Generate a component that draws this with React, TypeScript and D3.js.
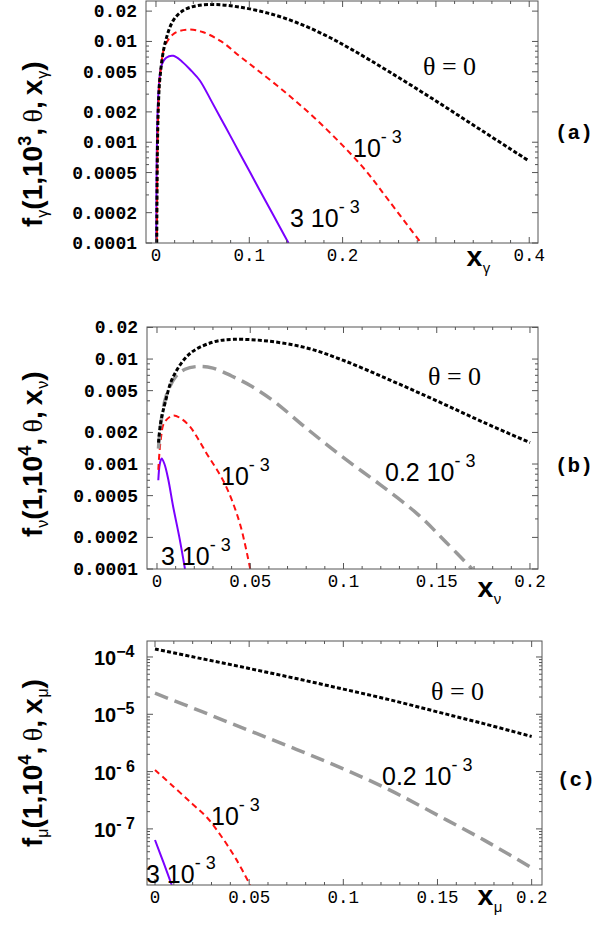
import React from 'react';
import * as d3 from 'd3';

type Pt = [number, number];

// ---- panel (a): f_gamma(1, 10^3, theta, x_gamma)
const gammaTheta0: Pt[] = [
  [0.0008, 0.0001], [0.0015, 0.0008], [0.0025, 0.0022], [0.0043, 0.0044], [0.0096, 0.0095],
  [0.0186, 0.0162], [0.03, 0.0205], [0.045, 0.0227], [0.065, 0.0232], [0.09, 0.0219],
  [0.12, 0.0191], [0.15, 0.0155], [0.18, 0.0117], [0.21, 0.0083], [0.25, 0.005],
  [0.3, 0.00257], [0.35, 0.00129], [0.4, 0.00065],
];
const gammaTheta1: Pt[] = [
  [0.001, 0.0001], [0.0018, 0.001], [0.003, 0.0028], [0.005, 0.0052], [0.01, 0.0092],
  [0.02, 0.0121], [0.035, 0.0131], [0.05, 0.0124], [0.07, 0.01], [0.09, 0.0071],
  [0.11, 0.0051], [0.14, 0.00305], [0.17, 0.00174], [0.2, 0.00093], [0.225, 0.00052],
  [0.25, 0.00026], [0.284, 0.0001],
];
const gammaTheta3: Pt[] = [
  [0.0003, 0.0001], [0.0012, 0.0012], [0.003, 0.0035], [0.006, 0.0058], [0.011, 0.0069],
  [0.0186, 0.0072], [0.028, 0.0063], [0.038, 0.0051], [0.047, 0.0041], [0.06, 0.0025],
  [0.075, 0.00139], [0.09, 0.00077], [0.11, 0.00035], [0.127, 0.00018], [0.142, 0.0001],
];

// ---- panel (b): f_nu(1, 10^4, theta, x_nu)
const nuTheta0: Pt[] = [
  [0.0008, 0.0016], [0.002, 0.0025], [0.0043, 0.0038], [0.0087, 0.0068], [0.0177, 0.0113],
  [0.03, 0.0145], [0.041, 0.0154], [0.06, 0.0148], [0.08, 0.0128], [0.1, 0.0097],
  [0.125, 0.0063], [0.15, 0.004], [0.175, 0.0025], [0.2, 0.0016],
];
const nuTheta02: Pt[] = [
  [0.0008, 0.0014], [0.002, 0.0024], [0.005, 0.0045], [0.01, 0.0068], [0.015, 0.008],
  [0.022, 0.0085], [0.03, 0.0082], [0.04, 0.0069], [0.05, 0.0056], [0.0624, 0.004],
  [0.08, 0.0022], [0.1, 0.00115], [0.12, 0.00063], [0.14, 0.00033], [0.155, 0.00018],
  [0.169, 0.0001],
];
const nuTheta1: Pt[] = [
  [0.0007, 0.00088], [0.002, 0.0017], [0.004, 0.0025], [0.0087, 0.0029], [0.013, 0.0027],
  [0.0177, 0.00227], [0.022, 0.00174], [0.0266, 0.00126], [0.031, 0.00095], [0.0356, 0.00069],
  [0.04, 0.00046], [0.045, 0.00025], [0.05, 0.0001],
];
const nuTheta3: Pt[] = [
  [0.0007, 0.0007], [0.0015, 0.001], [0.0025, 0.00113], [0.004, 0.001], [0.006, 0.00072],
  [0.0087, 0.00039], [0.012, 0.0002], [0.015, 0.0001],
];

// ---- panel (c): f_mu(1, 10^4, theta, x_mu)
const muTheta0: Pt[] = [
  [0, 1.38e-4], [0.025, 9.3e-5], [0.05, 6.3e-5], [0.075, 4.2e-5], [0.1, 2.75e-5],
  [0.125, 1.78e-5], [0.15, 1.1e-5], [0.175, 6.8e-6], [0.2, 4.1e-6],
];
const muTheta02: Pt[] = [
  [0, 2.33e-5], [0.025, 1.11e-5], [0.05, 5.2e-6], [0.075, 2.45e-6], [0.1, 1.12e-6],
  [0.125, 4.7e-7], [0.15, 1.74e-7], [0.175, 6.3e-8], [0.2, 2.1e-8],
];
const muTheta1: Pt[] = [
  [0, 1.07e-6], [0.01, 5.4e-7], [0.02, 2.7e-7], [0.0275, 1.6e-7], [0.035, 7.6e-8],
  [0.043, 3e-8], [0.0505, 1.05e-8],
];
const muTheta3: Pt[] = [[0, 6.4e-8], [0.0045, 2.6e-8], [0.0089, 1.05e-8]];

// ticks
const xTicksA = [0, 0.1, 0.2, 0.3, 0.4];
const xTickLabelsA = ['0', '0.1', '0.2', '', '0.4'];
const xTicksBC = [0, 0.05, 0.1, 0.15, 0.2];
const xTickLabelsBC = ['0', '0.05', '0.1', '0.15', '0.2'];
const yTicksAB = [0.02, 0.01, 0.005, 0.002, 0.001, 0.0005, 0.0002, 0.0001];
const yTickLabelsAB = ['0.02', '0.01', '0.005', '0.002', '0.001', '0.0005', '0.0002', '0.0001'];
const yTicksC = [1e-4, 1e-5, 1e-6, 1e-7];
const yTickExpC = ['\u22124', '\u22125', '- 6', '- 7'];

const SANS = '"Liberation Sans", Arial, sans-serif';
const MONO = '"Liberation Mono", "Courier New", monospace';
const SERIF = '"Liberation Serif", "Times New Roman", serif';

const lineStyles: Record<string, { stroke: string; width: number; dash?: string }> = {
  black: { stroke: '#000', width: 3, dash: '4 2.2' },
  gray: { stroke: '#999', width: 3.5, dash: '14 7' },
  red: { stroke: '#ff1010', width: 2, dash: '6 4' },
  purple: { stroke: '#7a00ff', width: 2 },
};

type Curve = { data: Pt[]; kind: string };

interface PanelProps {
  id: string;
  box: { left: number; top: number; right: number; bottom: number };
  xDomain: [number, number];
  yDomain: [number, number];
  xTicks: number[];
  xTickLabels: string[];
  xMinorStep: number;
  yTicks: number[];
  yTickLabels?: string[];
  yTickExp?: string[];
  curves: Curve[];
  children?: React.ReactNode;
}

const Panel = ({ id, box, xDomain, yDomain, xTicks, xTickLabels, xMinorStep, yTicks, yTickLabels, yTickExp, curves, children }: PanelProps) => {
  const x = d3.scaleLinear().domain(xDomain).range([box.left, box.right]);
  const y = d3.scaleLog().domain(yDomain).range([box.bottom, box.top]);
  const line = d3.line<Pt>().x(d => x(d[0])).y(d => y(d[1])).curve(d3.curveCatmullRom.alpha(0.5));

  const xMinor = d3.range(0, xDomain[1], xMinorStep)
    .filter(v => !xTicks.some(t => Math.abs(t - v) < 1e-9));
  const yMinor: number[] = [];
  for (let k = Math.floor(Math.log10(yDomain[0])); k <= Math.ceil(Math.log10(yDomain[1])); k++) {
    for (let m = 1; m <= 9; m++) {
      const v = m * Math.pow(10, k);
      if (v >= yDomain[0] * 0.999 && v <= yDomain[1] && !yTicks.some(t => Math.abs(t - v) / v < 1e-6)) yMinor.push(v);
    }
  }
  const tickColor = '#555';

  return (
    <g>
      <defs>
        <clipPath id={`clip-${id}`}>
          <rect x={box.left} y={box.top} width={box.right - box.left} height={box.bottom - box.top} />
        </clipPath>
      </defs>
      <g clipPath={`url(#clip-${id})`}>
        {curves.map((c, i) => {
          const s = lineStyles[c.kind];
          return <path key={i} d={line(c.data) || ''} fill="none" stroke={s.stroke} strokeWidth={s.width}
            strokeDasharray={s.dash} />;
        })}
      </g>
      <rect x={box.left} y={box.top} width={box.right - box.left} height={box.bottom - box.top}
        fill="none" stroke={tickColor} strokeWidth={1} />
      {xTicks.map(t => (
        <g key={`xt${t}`} stroke={tickColor}>
          <line x1={x(t)} x2={x(t)} y1={box.bottom} y2={box.bottom - 6} />
          <line x1={x(t)} x2={x(t)} y1={box.top} y2={box.top + 6} />
        </g>
      ))}
      {xMinor.map(t => (
        <g key={`xm${t}`} stroke={tickColor}>
          <line x1={x(t)} x2={x(t)} y1={box.bottom} y2={box.bottom - 3} />
          <line x1={x(t)} x2={x(t)} y1={box.top} y2={box.top + 3} />
        </g>
      ))}
      {yTicks.map(t => (
        <g key={`yt${t}`} stroke={tickColor}>
          <line x1={box.left} x2={box.left + 6} y1={y(t)} y2={y(t)} />
          <line x1={box.right} x2={box.right - 6} y1={y(t)} y2={y(t)} />
        </g>
      ))}
      {yMinor.map(t => (
        <g key={`ym${t}`} stroke={tickColor}>
          <line x1={box.left} x2={box.left + 3} y1={y(t)} y2={y(t)} />
          <line x1={box.right} x2={box.right - 3} y1={y(t)} y2={y(t)} />
        </g>
      ))}
      {xTicks.map((t, i) => (
        <text key={`xl${t}`} x={x(t)} y={box.bottom + 18} textAnchor="middle"
          fontFamily={MONO} fontSize={17.5}>{xTickLabels[i]}</text>
      ))}
      {yTickLabels && yTicks.map((t, i) => (
        <text key={`yl${t}`} x={box.left - 9} y={y(t) + 6} textAnchor="end"
          fontFamily={MONO} fontWeight="bold" fontSize={18}>{yTickLabels[i]}</text>
      ))}
      {yTickExp && yTicks.map((t, i) => (
        <text key={`ye${t}`} x={box.left - 53} y={y(t) + 8} textAnchor="start"
          fontFamily={SANS} fontWeight="bold" fontSize={20}>
          10<tspan fontSize={16} dy={-8}>{yTickExp[i]}</tspan>
        </text>
      ))}
      {children}
    </g>
  );
};

const Ten3 = ({ x, y, pre }: { x: number; y: number; pre: string }) => (
  <text x={x} y={y} fontFamily={SANS} fontSize={25}>
    {pre}10<tspan fontSize={18} dy={-14}>{'- 3'}</tspan>
  </text>
);

const Theta0 = ({ x, y }: { x: number; y: number }) => (
  <text x={x} y={y} fontFamily={SERIF} fontSize={26}>{'\u03b8 = 0'}</text>
);

const YLabel = ({ y, sub, pow }: { y: number; sub: string; pow: string }) => (
  <text transform={`translate(42,${y}) rotate(-90)`} fontFamily={SANS} fontWeight="bold" fontSize={28}>
    <tspan>f</tspan>
    <tspan fontSize={16} fontWeight="normal" dy={6}>{sub}</tspan>
    <tspan dy={-6}>{'(1,10'}</tspan>
    <tspan fontSize={18} dy={-11}>{pow}</tspan>
    <tspan dy={11}>{',\u2009'}</tspan>
    <tspan fontFamily={SERIF} fontWeight="normal">{'\u03b8'}</tspan>
    <tspan>{',\u2009'}</tspan>
    <tspan fontFamily={MONO}>x</tspan>
    <tspan fontSize={16} fontWeight="normal" dy={6}>{sub}</tspan>
    <tspan dy={-6}>)</tspan>
  </text>
);

const XLabel = ({ x, y, sub }: { x: number; y: number; sub: string }) => (
  <text x={x} y={y} fontFamily={MONO} fontWeight="bold" fontSize={28}>
    x<tspan fontFamily={SANS} fontWeight="normal" fontSize={15} dy={7}>{sub}</tspan>
  </text>
);

const Tag = ({ x, y, t }: { x: number; y: number; t: string }) => (
  <text x={x} y={y} fontFamily={MONO} fontWeight="bold" fontSize={21}>{t}</text>
);

export default function App() {
  return (
    <svg width={599} height={938} style={{ position: 'absolute', left: 0, top: 0, background: '#fff' }}>
      <rect width={599} height={938} fill="#fff" />
      <Panel id="a" box={{ left: 146, top: 1, right: 538, bottom: 243 }}
        xDomain={[-0.0107, 0.4094]} yDomain={[0.0001, 0.0252]}
        xTicks={xTicksA} xTickLabels={xTickLabelsA} xMinorStep={0.02}
        yTicks={yTicksAB} yTickLabels={yTickLabelsAB}
        curves={[
          { data: gammaTheta3, kind: 'purple' },
          { data: gammaTheta1, kind: 'red' },
          { data: gammaTheta0, kind: 'black' },
        ]}>
        <Theta0 x={423} y={75} />
        <Ten3 x={353} y={157} pre="" />
        <Ten3 x={290} y={227} pre="3 " />
        <YLabel y={227} sub={'\u03b3'} pow="3" />
        <XLabel x={466} y={266} sub={'\u03b3'} />
        <Tag x={555} y={139} t="(a)" />
      </Panel>
      <Panel id="b" box={{ left: 147, top: 327, right: 538, bottom: 569 }}
        xDomain={[-0.00536, 0.2043]} yDomain={[0.0001, 0.0202]}
        xTicks={xTicksBC} xTickLabels={xTickLabelsBC} xMinorStep={0.01}
        yTicks={yTicksAB} yTickLabels={yTickLabelsAB}
        curves={[
          { data: nuTheta3, kind: 'purple' },
          { data: nuTheta1, kind: 'red' },
          { data: nuTheta02, kind: 'gray' },
          { data: nuTheta0, kind: 'black' },
        ]}>
        <Theta0 x={428} y={385} />
        <Ten3 x={385} y={481} pre="0.2 " />
        <Ten3 x={221} y={485} pre="" />
        <Ten3 x={161} y={565} pre="3 " />
        <YLabel y={537} sub={'\u03bd'} pow="4" />
        <XLabel x={477} y={597} sub={'\u03bd'} />
        <Tag x={555} y={472} t="(b)" />
      </Panel>
      <Panel id="c" box={{ left: 147, top: 641, right: 542, bottom: 885 }}
        xDomain={[-0.00425, 0.2055]} yDomain={[1.05e-8, 1.9e-4]}
        xTicks={xTicksBC} xTickLabels={xTickLabelsBC} xMinorStep={0.01}
        yTicks={yTicksC} yTickExp={yTickExpC}
        curves={[
          { data: muTheta3, kind: 'purple' },
          { data: muTheta1, kind: 'red' },
          { data: muTheta02, kind: 'gray' },
          { data: muTheta0, kind: 'black' },
        ]}>
        <Theta0 x={431} y={700} />
        <Ten3 x={382} y={785} pre="0.2 " />
        <Ten3 x={211} y={825} pre="" />
        <Ten3 x={146} y={883} pre="3 " />
        <YLabel y={847} sub={'\u03bc'} pow="4" />
        <XLabel x={477} y={905} sub={'\u03bc'} />
        <Tag x={557} y={786} t="(c)" />
      </Panel>
    </svg>
  );
}
